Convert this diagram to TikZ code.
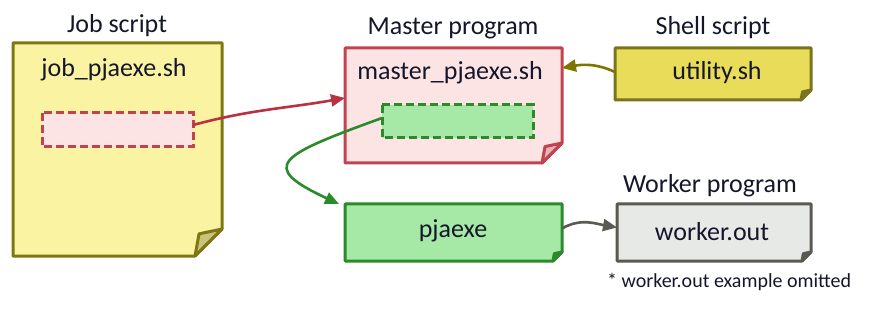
\documentclass[tikz,border=0pt]{standalone}
\usepackage{fontspec}
\setmainfont{Carlito}
\usetikzlibrary{arrows.meta,calc}
\definecolor{txt}{HTML}{15162A}
\definecolor{jobfill}{HTML}{FAF4A2}
\definecolor{jobdraw}{HTML}{7D7814}
\definecolor{jobfold}{HTML}{C9C47A}
\definecolor{mfill}{HTML}{FDE4E4}
\definecolor{mdraw}{HTML}{C0434F}
\definecolor{mfold}{HTML}{E2B3B8}
\definecolor{gfill}{HTML}{A6E8A6}
\definecolor{gdraw}{HTML}{2B8A2B}
\definecolor{gfold}{HTML}{2B8A2B}
\definecolor{sfill}{HTML}{E8DC58}
\definecolor{sdraw}{HTML}{7A7320}
\definecolor{sfold}{HTML}{7A7320}
\definecolor{wfill}{HTML}{E7E9E7}
\definecolor{wdraw}{HTML}{5A5A52}
\definecolor{wfold}{HTML}{5A5A52}
\definecolor{redarr}{HTML}{B8323F}
\definecolor{olivearr}{HTML}{7F7400}
\definecolor{grayarr}{HTML}{5A5A55}
\newcommand\mydoc[5]{%
  \path[fill=#3,draw=#4,docline] (#1.north west) -- (#1.north east)
    -- ([yshift=#2]#1.south east) -- ([xshift=-#2]#1.south east)
    -- (#1.south west) -- cycle;
  \path[fill=#5,draw=#4,docline] ([yshift=#2]#1.south east)
    -- ([xshift=-#2]#1.south east)
    -- ([xshift=-0.85*#2,yshift=0.82*#2]#1.south east) -- cycle;
}
\tikzset{
  docline/.style={line width=3pt,line join=round},
  box/.style={draw=none,inner sep=0pt,outer sep=0pt},
  dashbox/.style={inner sep=0pt,outer sep=0pt},
  dashline/.style={line width=3pt,dash pattern=on 8pt off 4pt},
  big/.style={font=\fontsize{26}{30}\selectfont,text=txt,inner sep=0pt,anchor=base},
  small/.style={font=\fontsize{20}{24}\selectfont,text=txt,inner sep=0pt,anchor=base west},
  conn/.style={line width=2.6pt,-{Triangle[length=14pt,width=12pt]}},
}
\begin{document}
\begin{tikzpicture}[x=1pt,y=1pt]
\useasboundingbox[fill=white] (0,0) rectangle (880,324);
% documents
\node[box,minimum width=209pt,minimum height=213pt] (job) at (117.5,174.5) {};
\mydoc{job}{27pt}{jobfill}{jobdraw}{jobfold}
\node[box,minimum width=217pt,minimum height=115pt] (master) at (453.5,218.5) {};
\mydoc{master}{20pt}{mfill}{mdraw}{mfold}
\node[box,minimum width=217pt,minimum height=57pt] (pja) at (453.5,91.5) {};
\mydoc{pja}{9pt}{gfill}{gdraw}{gfold}
\node[box,minimum width=196pt,minimum height=52pt] (shell) at (713,250) {};
\mydoc{shell}{10pt}{sfill}{sdraw}{sfold}
\node[box,minimum width=194pt,minimum height=57pt] (worker) at (714,91.5) {};
\mydoc{worker}{9pt}{wfill}{wdraw}{wfold}
% dashed inner boxes
\node[dashbox,minimum width=151pt,minimum height=34pt] (pink) at (117.5,194) {};
\draw[dashline,draw=mdraw,fill=mfill] (pink.north west) rectangle (pink.south east);
\node[dashbox,minimum width=151pt,minimum height=33pt] (green) at (457.5,202.5) {};
\draw[dashline,draw=gdraw,fill=gfill] (green.north west) rectangle (green.south east);
% texts
\node[big] (t1) at (117,291) {Job script};
\node[big] (t2) at (114,247) {job\_pjaexe.sh};
\node[big] (t3) at (453,289) {Master program};
\node[big] (t4) at (450,244) {master\_pjaexe.sh};
\node[big] (t5) at (713,289) {Shell script};
\node[big] (t6) at (717,244) {utility.sh};
\node[big] (t7) at (453,87) {pjaexe};
\node[big] (t8) at (710,131) {Worker program};
\node[big] (t9) at (712,84) {worker.out};
\node[small] (t10) at (607,37) {* worker.out example omitted};
% connectors
\draw[conn,draw=redarr] ([yshift=5pt]pink.east) to[out=15,in=190] ([yshift=7.5pt]master.west);
\draw[conn,draw=gdraw] ([yshift=3.5pt]green.west) to[out=200,in=155,out distance=110pt,in distance=90pt] ([xshift=-6pt]pja.north west);
\draw[conn,draw=olivearr] ([yshift=2pt]shell.west) to[out=155,in=10] ([yshift=-20pt]master.north east);
\draw[conn,draw=grayarr] ([yshift=4pt]pja.east) to[out=30,in=170] ([yshift=5pt]worker.west);
\end{tikzpicture}
\end{document}
